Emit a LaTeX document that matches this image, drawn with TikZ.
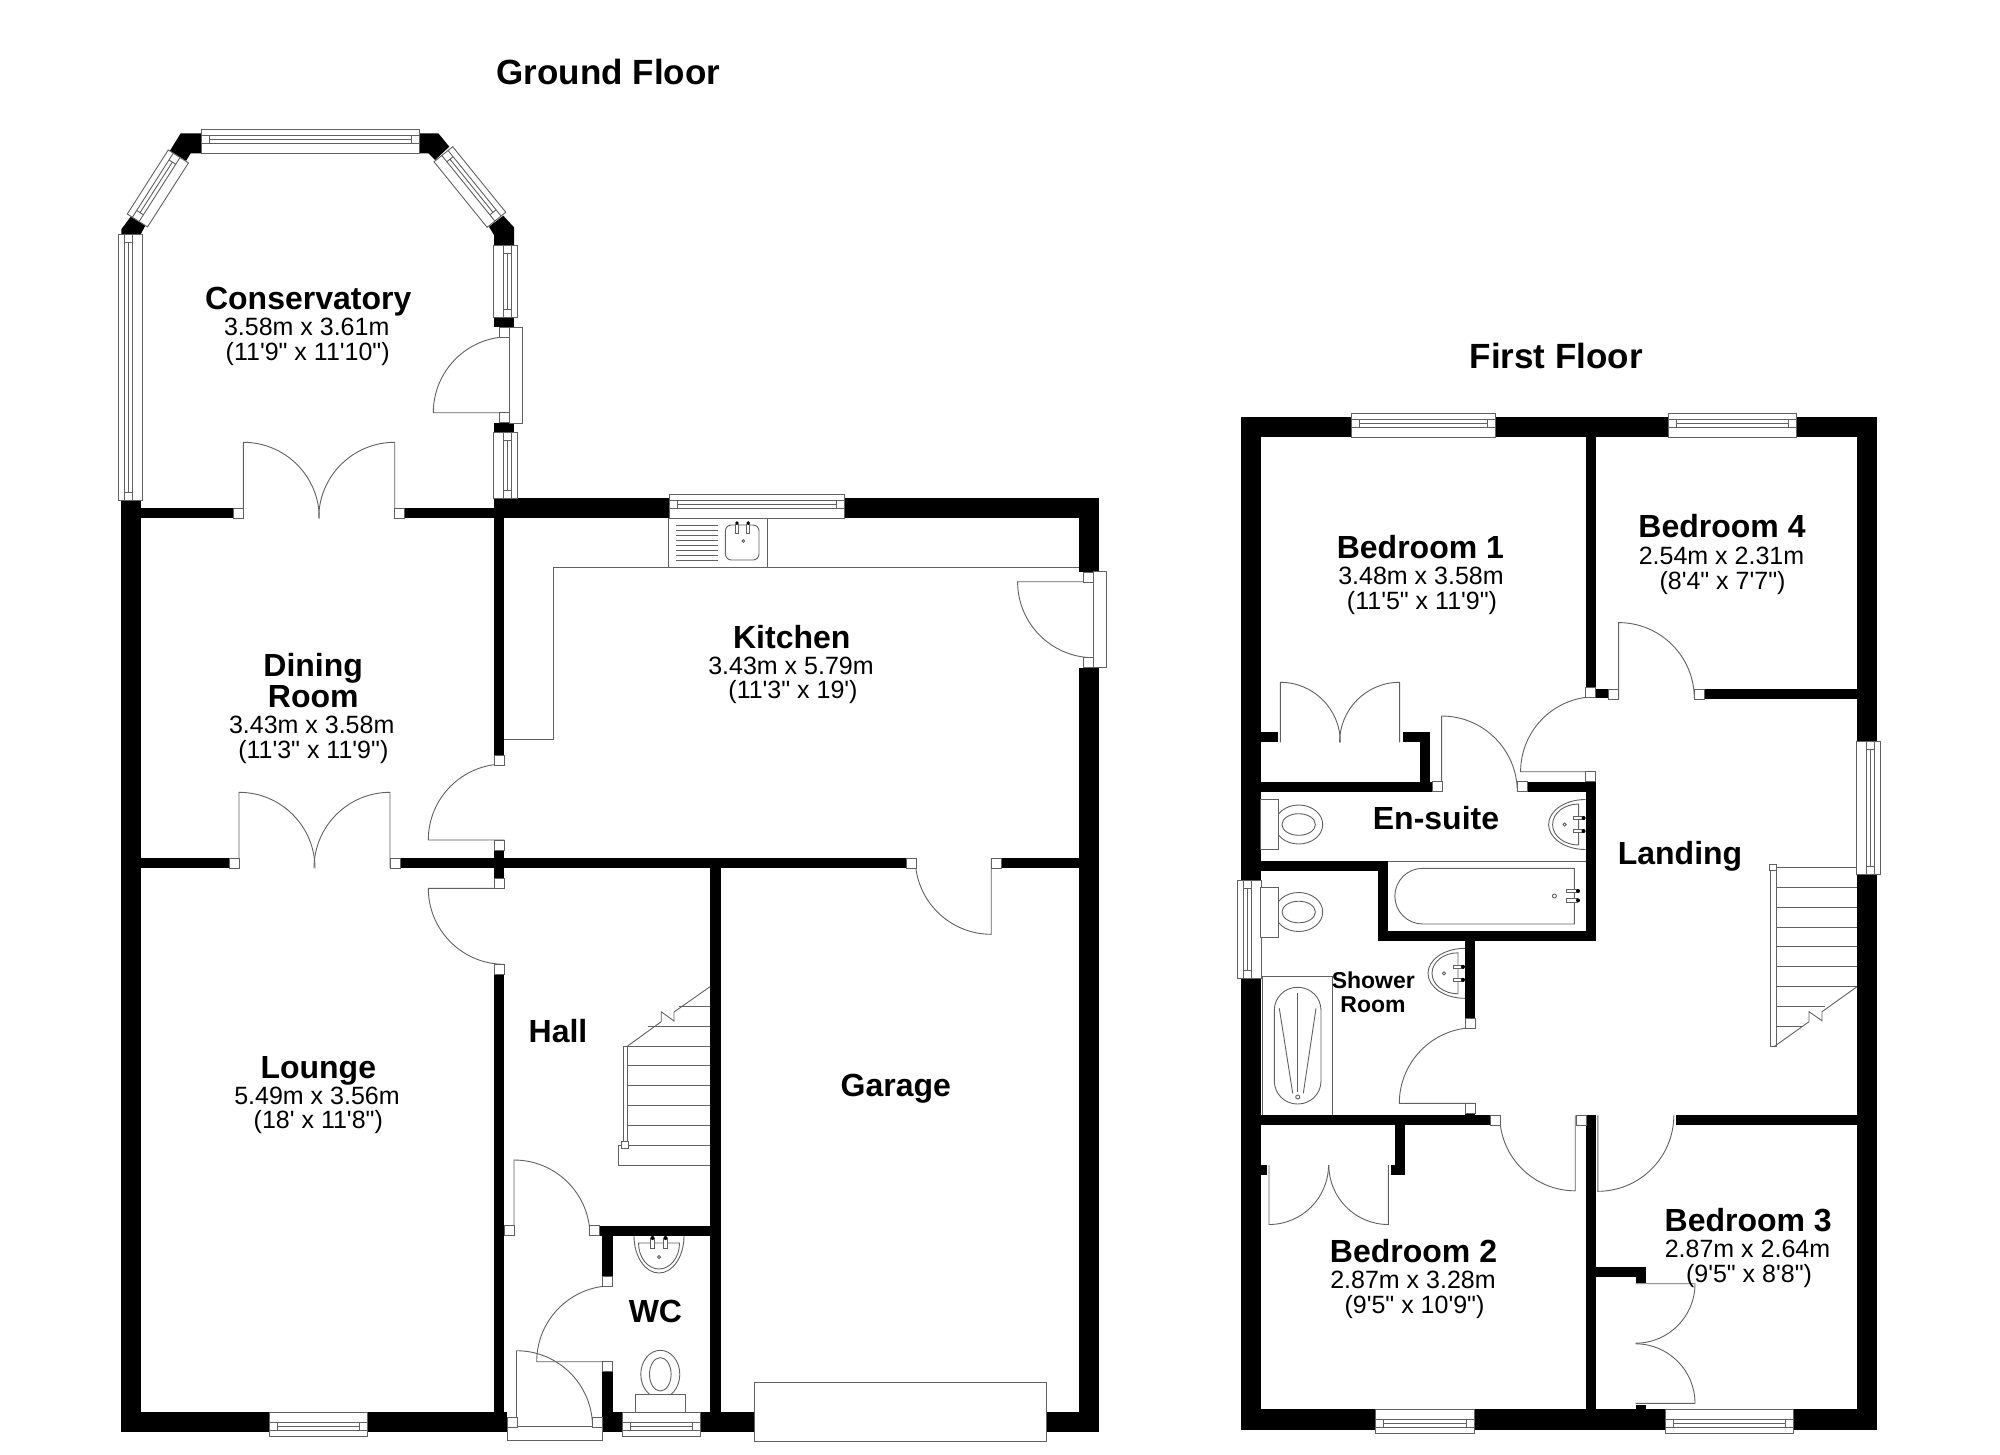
\documentclass[tikz,border=0pt]{standalone}
\usepackage{fontspec}
\newfontfamily\planfont{Liberation Sans}
\tikzset{
	wall/.style={fill=black,draw=none},
	thinline/.style={draw=black!62,line width=0.9pt},
	frame/.style={thinline,fill=white},
	floorname/.style={font=\planfont\bfseries\fontsize{35}{35}\selectfont,anchor=base,inner sep=0pt},
	roomname/.style={font=\planfont\bfseries\fontsize{32}{32}\selectfont,anchor=base,inner sep=0pt},
	smallname/.style={font=\planfont\bfseries\fontsize{23}{23}\selectfont,anchor=base,inner sep=0pt},
	roomsize/.style={font=\planfont\fontsize{25}{25}\selectfont,anchor=base,inner sep=0pt}
}
\newcommand{\winframe}[4]{
	\begin{scope}[shift={(#1,#2)},rotate=#3]
		\draw[frame] (0,0) rectangle (#4,24);
		\draw[thinline] (0,6) -- (#4,6) (0,14) -- (#4,14) (8,6) -- (8,14)
			({#4-8},6) -- ({#4-8},14) (8,10) -- ({#4-8},10);
	\end{scope}
}
\newcommand{\swing}[5]{
	\draw[thinline] (#1,#2) -- ++(#3:#5 pt) arc[start angle=#3,end angle=#4,radius=#5 pt];
}
\newcommand{\basin}[3]{
	\begin{scope}[shift={(#1,#2)},rotate=#3]
		\draw[thinline] (-25,0) arc[start angle=180,end angle=360,x radius=25pt,y radius=37pt];
		\draw[thinline] (-20.5,7) arc[start angle=180,end angle=360,x radius=20.5pt,y radius=26pt] -- cycle;
		\foreach \tapx in {-6.5,6.5} {
			\draw[frame] (\tapx-1.8,2) rectangle (\tapx+1.8,12);
			\fill[black] (\tapx,2) circle[radius=2pt];
		}
		\draw[thinline] (0,21) circle[radius=1.6pt];
	\end{scope}
}
\newcommand{\toilet}[3]{
	\begin{scope}[shift={(#1,#2)},rotate=#3]
		\draw[thinline] (0,38) ellipse[x radius=19.5pt,y radius=24pt];
		\draw[thinline] (0,38) ellipse[x radius=10.8pt,y radius=16.7pt];
		\draw[frame] (-25,0) rectangle (25,18);
	\end{scope}
}
\begin{document}
\begin{tikzpicture}[x=1pt,y=-1pt]
	\useasboundingbox (0,0) rectangle (2000,1454);

	\node[floorname] (groundtitle) at (608.5,84) {Ground Floor};
	\node[floorname] (firsttitle) at (1556.3,368) {First Floor};

	\foreach \xa/\ya/\xb/\yb in {121.3/500.7/141.3/1431.7,121.3/1412.3/507/1431.7,
		141.3/508.3/233.3/518.3,404.7/508.3/494/518.3,494/498.3/669.5/518.3,
		844.8/498.3/1098.6/518.3,1079/498.3/1098.6/571.7,1079/667.7/1098.6/1431.7,
		494/518/504.3/755,494/850/504.3/878.3,141.3/858.3/229/868.3,400/858.3/494/868.3,
		504/858.3/906.2/868.3,1001.2/858.3/1079/868.3,494.3/974/504.3/1412.3,
		710/868/720.5/1412.3,599.4/1225.7/710/1236,602.3/1236/612.7/1276,
		602.3/1371.7/612.7/1431.7,602.3/1412.3/622.6/1431.7,700.6/1412.3/754.5/1431.7,
		1046.7/1412.3/1098.6/1431.7,494/317.3/514/327.3,494/422.7/514/432.7,
		1240.7/416.7/1351.9/437.3,1495.8/416.7/1668.4/437.3,1796/416.7/1877.3/437.3,
		1240.7/416.7/1260.7/881.7,1240.7/978.3/1260.7/1430,1857/416.7/1877.3/741.7,
		1857/874.3/1877.3/1430,1240.7/1409.3/1375.7/1430,1474.6/1409.3/1665.8/1430,
		1793.3/1409.3/1877.3/1430,1585.6/437/1595.6/687.3,1595.6/689/1608.6/698.3,
		1704/689/1857/699,1260.7/732.3/1278.2/742.3,1402.6/732.3/1429.5/742.3,
		1420/732.3/1429.5/781.7,1260.7/781.7/1432/791.7,1527/781.7/1595.6/791.7,
		1585.6/781.7/1595.6/940.7,1260.7/861/1388.3/870.7,1378/861/1388.3/940.7,
		1378/930.7/1595.6/940.7,1465/940.7/1475/1018.3,1465/1113.3/1475/1115.3,
		1260.7/1115.3/1490.7/1125.3,1585.6/1115.3/1595.6/1409.3,1675.8/1115.3/1857/1125.3,
		1394.8/1125.3/1404.8/1175,1390.5/1165/1404.8/1175,1260.7/1165/1267/1175,
		1595.6/1267.3/1645.5/1277.3,1635.5/1267.3/1645.5/1283.3,1635.5/1405.3/1645.5/1410} {
		\fill[wall] (\xa,\ya) rectangle (\xb,\yb);
	}

	\fill[wall] (180.7,133.3) -- (201.3,133.3) -- (201.3,153.3) -- (190.7,153.3) -- (186,161) -- (170,150.7) -- cycle;
	\fill[wall] (130.7,216.7) -- (145.7,225) -- (140.7,234.3) -- (121.3,234.3) -- (121.3,229.3) -- cycle;
	\fill[wall] (419,133.3) -- (438.3,133.3) -- (449.3,146.7) -- (435,160) -- (428.3,153.3) -- (419,153.3) -- cycle;
	\fill[wall] (503.3,215.7) -- (514,227.3) -- (514,245) -- (494,245) -- (494,235) -- (489,226.7) -- cycle;

	\winframe{201.3}{129.3}{0}{217.7}
	\winframe{127.3}{214}{57.4}{76}
	\winframe{452.7}{146.7}{-51}{84.3}
	\winframe{118.3}{500.7}{90}{266.4}
	\winframe{517.3}{245}{-90}{72.3}
	\winframe{517.3}{432.7}{-90}{65.6}
	\winframe{669.5}{494.5}{0}{175.3}
	\winframe{367.4}{1436}{180}{98}
	\winframe{700.6}{1436}{180}{78}
	\winframe{1351.9}{413.3}{0}{143.9}
	\winframe{1668.4}{413.3}{0}{127.6}
	\winframe{1880.5}{741.7}{-90}{132.6}
	\winframe{1237.5}{978.3}{90}{97.6}
	\winframe{1474.6}{1433.3}{180}{98.9}
	\winframe{1793.3}{1433.3}{180}{127.5}

	\draw[frame] (509.3,327.3) rectangle (522.7,423.3);
	\draw[frame] (1093.6,571.7) rectangle (1106.9,667.7);
	\draw[frame] (507,1426.7) rectangle (602.3,1440);
	\draw[frame] (754.5,1382.3) rectangle (1046.7,1441.7);

	\swing{509.3}{412.7}{180}{90}{76}
	\swing{243.3}{518.3}{90}{0}{76}
	\swing{394.7}{518.3}{90}{180}{76}
	\swing{504.3}{840}{180}{90}{76}
	\swing{504.3}{888.3}{180}{270}{76}
	\swing{239}{868.3}{90}{0}{76}
	\swing{390}{868.3}{90}{180}{76}
	\swing{1093.6}{581.7}{180}{270}{76}
	\swing{991.2}{858.3}{270}{180}{76}
	\swing{514}{1236}{90}{0}{76}
	\swing{612.7}{1361.7}{180}{90}{76}
	\swing{516.5}{1426.7}{90}{0}{76}
	\swing{1618.6}{698.3}{90}{0}{75.7}
	\swing{1595.6}{771.7}{180}{90}{75}
	\swing{1441.6}{791.7}{90}{0}{75.7}
	\swing{1475}{1103.3}{180}{90}{75.7}
	\swing{1575.2}{1115.3}{270}{180}{75.5}
	\swing{1597.8}{1115.3}{270}{360}{76}
	\swing{1280.3}{742.3}{90}{0}{60}
	\swing{1399.6}{742.3}{90}{180}{60}
	\swing{1269}{1165}{270}{360}{59.5}
	\swing{1388.3}{1165}{270}{180}{59.5}
	\swing{1635.5}{1283.7}{0}{-90}{59.5}
	\swing{1635.5}{1403.3}{0}{90}{59.5}

	\foreach \jx/\jy in {499.3/327.3,499.3/412.7,233.3/508.3,394.7/508.3,494/755,494/840,
		494/878.3,494/964,229/858.3,390/858.3,906.2/858.3,991.2/858.3,1083.6/572,
		1083.6/657.7,504/1225.7,589.4/1225.7,602.3/1276,602.3/1361.7,507/1417,592.8/1417,
		1585.6/687.3,1608.6/689,1694.5/689,1432/781.7,1517.5/781.7,1585.6/771.7,
		1465/1018.3,1465/1103.3,1490.7/1115.3,1576/1115.3} {
		\draw[frame] (\jx,\jy) rectangle ++(10,10);
	}

	\draw[thinline] (504.3,739) -- (553.8,739) -- (553.8,567.7) -- (1079,567.7);
	\draw[thinline] (668.6,518.3) rectangle (767.3,567.7);
	\foreach \dy in {0,...,7} {
		\draw[thinline] (676,525.7+4.9*\dy) -- (718.4,525.7+4.9*\dy);
	}
	\draw[thinline,rounded corners=6pt] (725.4,525) rectangle (759,560);
	\foreach \tapx in {737,748.2} {
		\draw[frame] (\tapx-1.6,524) rectangle (\tapx+1.6,533);
		\fill[black] (\tapx,523) circle[radius=1.8pt];
	}
	\draw[thinline] (743.3,541) circle[radius=1.4pt];

	\basin{659}{1236}{0}
	\toilet{660.3}{1412.3}{180}
	\basin{1585.6}{824.5}{-90}
	\toilet{1260.7}{824.5}{90}
	\basin{1465}{973.3}{-90}
	\toilet{1260.7}{912}{90}

	\draw[thinline] (1388.3,861) -- (1585.6,861);
	\draw[thinline] (1574.3,868.3) -- (1422.7,868.3) arc[start angle=90,end angle=270,radius=27.85pt] -- (1574.3,924) -- cycle;
	\foreach \tapy in {891,900.3} {
		\draw[frame] (1566,\tapy-1.8) rectangle (1577,\tapy+1.8);
		\fill[black] (1578,\tapy) circle[radius=2pt];
	}
	\draw[thinline] (1554.4,896) circle[radius=2pt];

	\draw[thinline] (1262.7,1115.3) -- (1262.7,976.7) -- (1332.3,976.7) -- (1332.3,1115.3);
	\draw[thinline,rounded corners=23pt] (1274.3,987.3) rectangle (1321,1104);
	\draw[thinline] (1297.7,993.3) -- (1297.7,1091.7);
	\draw[thinline] (1279.3,1008.3) -- (1292.7,1093.3);
	\draw[thinline] (1316,1008.3) -- (1303.3,1093.3);
	\draw[thinline] (1297.7,1097) circle[radius=2pt];

	\foreach \ty in {1046,1065.7,1085.7,1105.7,1125.3,1145} {
		\draw[thinline] (627.6,\ty) -- (710,\ty);
	}
	\draw[thinline] (648,1026) -- (710,1026);
	\draw[thinline] (679,1006) -- (710,1006);
	\draw[thinline] (710,1165) -- (618.5,1165) -- (618.5,1145) -- (623,1145);
	\draw[frame] (623,1046) rectangle (627.6,1148);
	\draw[frame] (621.4,1141.7) rectangle (628.4,1148.3);
	\draw[thinline] (627.6,1046) -- (661.2,1021.7) -- (661.2,1011.7) -- (674,1021) -- (674,1012) -- (710,986.7);

	\foreach \ty in {867.7,887.3,907.3,927,946.7,966.7,986.7} {
		\draw[thinline] (1776,\ty) -- (1857,\ty);
	}
	\draw[thinline] (1776,1006.7) -- (1825,1006.7);
	\draw[thinline] (1776,1026.7) -- (1801.6,1026.7);
	\draw[frame] (1770.5,864.3) rectangle (1776,1046.7);
	\draw[frame] (1769.5,864.3) rectangle (1776.5,870);
	\draw[thinline] (1857,986.7) -- (1822,1011.7) -- (1822,1020.7) -- (1809,1011.7) -- (1809,1021.7) -- (1774,1046.7);

	\node[roomname] (conservatory) at (308.2,309) {Conservatory};
	\node[roomsize] (conservatorya) at (306.7,335) {3.58m x 3.61m};
	\node[roomsize] (conservatoryb) at (307.7,360) {(11'9" x 11'10")};
	\node[roomname] (dining) at (313.2,676) {Dining};
	\node[roomname] (diningroom) at (313.3,707.2) {Room};
	\node[roomsize] (diningroma) at (311.7,733.3) {3.43m x 3.58m};
	\node[roomsize] (diningromb) at (313.3,758.3) {(11'3" x 11'9")};
	\node[roomname] (kitchen) at (791.8,648) {Kitchen};
	\node[roomsize] (kitchena) at (791,674) {3.43m x 5.79m};
	\node[roomsize] (kitchenb) at (793,698.3) {(11'3" x 19')};
	\node[roomname] (lounge) at (318.3,1078.3) {Lounge};
	\node[roomsize] (loungea) at (317,1104) {5.49m x 3.56m};
	\node[roomsize] (loungeb) at (318.3,1128.3) {(18' x 11'8")};
	\node[roomname] (hall) at (558,1042.3) {Hall};
	\node[roomname] (garage) at (895.8,1096.7) {Garage};
	\node[roomname] (wc) at (655.4,1322.3) {WC};
	\node[roomname] (bedone) at (1420.4,558.3) {Bedroom 1};
	\node[roomsize] (bedonea) at (1421,584.3) {3.48m x 3.58m};
	\node[roomsize] (bedoneb) at (1422,609.3) {(11'5" x 11'9")};
	\node[roomname] (bedfour) at (1722,537.7) {Bedroom 4};
	\node[roomsize] (bedfoura) at (1721.5,564) {2.54m x 2.31m};
	\node[roomsize] (bedfourb) at (1722.5,589.3) {(8'4" x 7'7")};
	\node[roomname] (ensuite) at (1436,829) {En-suite};
	\node[roomname] (landing) at (1680,864.3) {Landing};
	\node[smallname] (shower) at (1373.3,988.3) {Shower};
	\node[smallname] (showerroom) at (1373,1012.3) {Room};
	\node[roomname] (bedthree) at (1748.2,1231) {Bedroom 3};
	\node[roomsize] (bedthreea) at (1747.5,1257.3) {2.87m x 2.64m};
	\node[roomsize] (bedthreeb) at (1749,1282.3) {(9'5" x 8'8")};
	\node[roomname] (bedtwo) at (1413.5,1262.3) {Bedroom 2};
	\node[roomsize] (bedtwoa) at (1413,1288.3) {2.87m x 3.28m};
	\node[roomsize] (bedtwob) at (1414.5,1313.3) {(9'5" x 10'9")};
\end{tikzpicture}
\end{document}
